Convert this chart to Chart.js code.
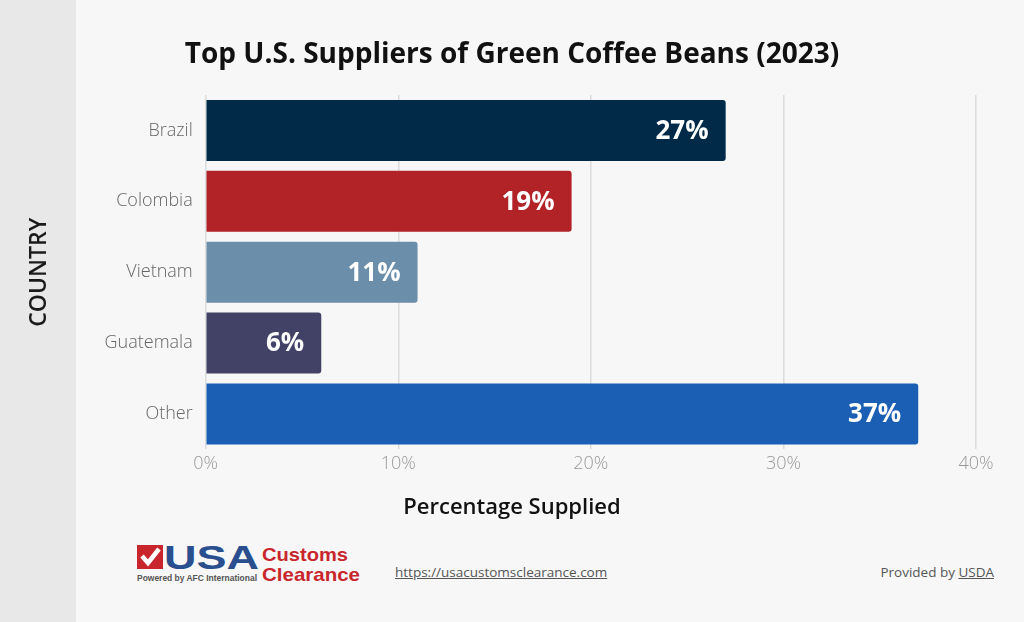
<!DOCTYPE html>
<html>
<head>
<meta charset="utf-8">
<script src="https://cdn.jsdelivr.net/npm/chart.js@4.4.0/dist/chart.umd.min.js"></script>
<style>
  html, body { margin: 0; padding: 0; }
  body { width: 1024px; height: 622px; background: #f7f7f7; position: relative; overflow: hidden; font-family: "Open Sans", sans-serif; }
  #band { position: absolute; left: 0; top: 0; width: 76px; height: 622px; background: #e8e8e8; }
  #wrap { position: absolute; left: 0; top: 0; width: 1024px; height: 530px; }
  .heading { position: absolute; left: 0; width: 1024px; text-align: center; color: #111; font-family: "Open Sans", sans-serif; line-height: 1; }
  #title { top: 38px; font-size: 28px; font-weight: 700; }
  #xtitle { top: 494px; font-size: 22px; font-weight: 600; }
  #logo { position: absolute; left: 137px; top: 542px; width: 226px; height: 42px; }
  #url { position: absolute; left: 395px; top: 563px; font-size: 13.5px; color: #555; text-decoration: underline; }
  #src { position: absolute; right: 30px; top: 563px; font-size: 13.5px; color: #555; }
  #src u { text-decoration: underline; }
</style>
</head>
<body>
<div id="band"></div>
<div id="wrap"><canvas id="chart" width="1024" height="530"></canvas></div>
<div class="heading" id="title">Top U.S. Suppliers of Green Coffee Beans (2023)</div>
<div class="heading" id="xtitle">Percentage Supplied</div>
<div id="logo">
  <svg width="226" height="42" viewBox="0 0 226 42">
    <rect x="0" y="3" width="26" height="24" fill="#c8262c"/>
    <path d="M5 14 L11 21 L22 7" stroke="#fff" stroke-width="4.5" fill="none"/>
    <text x="27" y="27" font-family="Liberation Sans, Arial" font-weight="bold" font-size="33" fill="#2a4f8f" textLength="95" lengthAdjust="spacingAndGlyphs">USA</text>
    <text x="0" y="39" font-family="Liberation Sans, Arial" font-weight="bold" font-size="8.4" fill="#555" textLength="120" lengthAdjust="spacingAndGlyphs">Powered by AFC International</text>
    <text x="125" y="19" font-family="Liberation Sans, Arial" font-weight="bold" font-size="19" fill="#c8262c" textLength="86" lengthAdjust="spacingAndGlyphs">Customs</text>
    <text x="125" y="39" font-family="Liberation Sans, Arial" font-weight="bold" font-size="19" fill="#c8262c" textLength="98" lengthAdjust="spacingAndGlyphs">Clearance</text>
  </svg>
</div>
<div id="url">https://usacustomsclearance.com</div>
<div id="src">Provided by <u>USDA</u></div>
<script>
const countries = ["Brazil", "Colombia", "Vietnam", "Guatemala", "Other"];
const shares = [27, 19, 11, 6, 37];
const barColors = ["#002a48", "#b22328", "#6b8fab", "#424266", "#1b5fb4"];
const xTicks = [0, 10, 20, 30, 40];

// white value labels at the end of each bar
const valueLabels = {
    id: "valueLabels",
    afterDatasetsDraw(chart) {
        const ctx = chart.ctx;
        const meta = chart.getDatasetMeta(0);
        ctx.save();
        ctx.fillStyle = "#ffffff";
        ctx.font = "bold 26px 'Open Sans', sans-serif";
        ctx.textAlign = "right";
        ctx.textBaseline = "middle";
        meta.data.forEach((bar, i) => {
            ctx.fillText(shares[i] + "%", bar.x - 17, bar.y + 1);
        });
        ctx.restore();
    }
};

new Chart(document.getElementById("chart").getContext("2d"), {
    type: "bar",
    data: {
        labels: countries,
        datasets: [{
            data: shares,
            backgroundColor: barColors,
            borderRadius: 3,
            borderSkipped: "left",
            barPercentage: 0.86,
            categoryPercentage: 1
        }]
    },
    options: {
        indexAxis: "y",
        responsive: false,
        animation: false,
        devicePixelRatio: 1,
        layout: { padding: { left: 26, right: 48, top: 95, bottom: 51 } },
        plugins: {
            legend: { display: false },
            tooltip: { enabled: false },
            title: { display: false }
        },
        scales: {
            x: {
                min: 0,
                max: 40,
                afterBuildTicks(axis) { axis.ticks = xTicks.map(v => ({ value: v })); },
                ticks: {
                    callback: v => v + "%",
                    color: "#999",
                    font: { family: "Open Sans", size: 18, weight: 300 },
                    padding: 4
                },
                grid: { color: "#dcdcdc", lineWidth: 1.5, drawTicks: false },
                border: { display: false }
            },
            y: {
                ticks: {
                    color: "#666",
                    font: { family: "Open Sans", size: 18, weight: 300 },
                    padding: 13
                },
                grid: { display: false, drawTicks: false },
                border: { display: false },
                title: {
                    display: true,
                    text: "COUNTRY",
                    color: "#1a1a1a",
                    font: { family: "'Open Sans', sans-serif", size: 23, weight: 600 },
                    padding: { top: 0, bottom: 38 }
                }
            }
        }
    },
    plugins: [valueLabels]
});
</script>
</body>
</html>
